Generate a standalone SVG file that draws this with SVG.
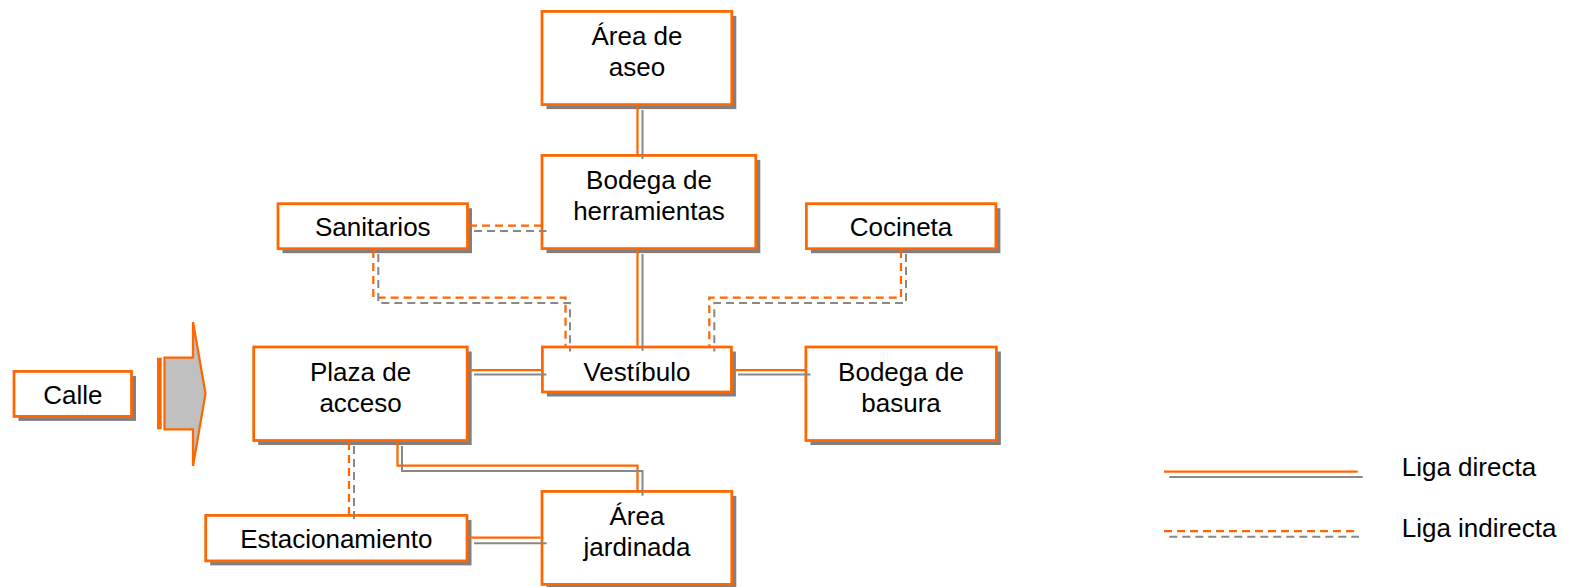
<svg xmlns="http://www.w3.org/2000/svg" width="1580" height="587" viewBox="0 0 1580 587">
<style>
.box{fill:#fff;stroke:#FF6600;stroke-width:2.75}
.sh{fill:#808080}
.t{font-family:"Liberation Sans",Arial,sans-serif;font-size:26px;fill:#000;text-anchor:middle}
.lt{font-family:"Liberation Sans",Arial,sans-serif;font-size:26px;fill:#000}
.o{fill:none;stroke:#FF6600;stroke-width:2.25}
.g{fill:none;stroke:#888;stroke-width:2}
.d{stroke-dasharray:8 5}
</style>
<rect width="1580" height="587" fill="#fff"/>
<g id="calle">
<rect class="sh" x="18.5" y="375.9" width="117.5" height="45"/>
<rect class="box" x="14" y="371.4" width="117.5" height="45"/>
<text class="t" x="72.8" y="404.3">Calle</text>
</g>
<g id="arrow">
<rect x="157" y="357.7" width="4.7" height="71.6" fill="#FF6600"/>
<polygon points="164.5,357.7 193,357.7 193,322 205.5,393.5 193,466 193,429.3 164.5,429.3" fill="#C0C0C0" stroke="#FF6600" stroke-width="2.25"/>
</g>
<g id="area-aseo">
<rect class="sh" x="546.5" y="15.9" width="189.8" height="93.2"/>
<rect class="box" x="542" y="11.4" width="189.8" height="93.2"/>
<text class="t" x="637" y="45">Área de</text>
<text class="t" x="637" y="76">aseo</text>
</g>
<g id="bodega-herramientas">
<rect class="sh" x="546.5" y="159.9" width="213.8" height="93.2"/>
<rect class="box" x="542" y="155.4" width="213.8" height="93.2"/>
<text class="t" x="649" y="189">Bodega de</text>
<text class="t" x="649" y="220">herramientas</text>
</g>
<g id="sanitarios">
<rect class="sh" x="282.5" y="208.2" width="189.5" height="45"/>
<rect class="box" x="278" y="203.7" width="189.5" height="45"/>
<text class="t" x="372.8" y="236">Sanitarios</text>
</g>
<g id="cocineta">
<rect class="sh" x="810.9" y="208.2" width="189.5" height="45"/>
<rect class="box" x="806.4" y="203.7" width="189.5" height="45"/>
<text class="t" x="901" y="236">Cocineta</text>
</g>
<g id="plaza-acceso">
<rect class="sh" x="258.2" y="351.5" width="213.5" height="93.5"/>
<rect class="box" x="253.7" y="347" width="213.5" height="93.5"/>
<text class="t" x="360.6" y="381">Plaza de</text>
<text class="t" x="360.6" y="412">acceso</text>
</g>
<g id="vestibulo">
<rect class="sh" x="546.9" y="351.5" width="189" height="45"/>
<rect class="box" x="542.4" y="347" width="189" height="45"/>
<text class="t" x="636.9" y="380.7">Vestíbulo</text>
</g>
<g id="bodega-basura">
<rect class="sh" x="810.4" y="351.5" width="190.5" height="93.5"/>
<rect class="box" x="805.9" y="347" width="190.5" height="93.5"/>
<text class="t" x="901" y="381">Bodega de</text>
<text class="t" x="901" y="412">basura</text>
</g>
<g id="estacionamiento">
<rect class="sh" x="210.2" y="519.9" width="261.3" height="45.5"/>
<rect class="box" x="205.7" y="515.4" width="261.3" height="45.5"/>
<text class="t" x="336.3" y="548">Estacionamiento</text>
</g>
<g id="area-jardinada">
<rect class="sh" x="546.5" y="495.9" width="189.8" height="93"/>
<rect class="box" x="542" y="491.4" width="189.8" height="93"/>
<text class="t" x="637" y="525">Área</text>
<text class="t" x="637" y="556">jardinada</text>
</g>
<g id="connectors">
<path class="o" d="M637.5,106 V154"/>
<path class="g" d="M642.5,110 V159"/>
<path class="o" d="M637.5,250 V345.7"/>
<path class="g" d="M642.5,254 V351"/>
<path class="o" d="M469,370 H541"/>
<path class="g" d="M474,374.5 H546.5"/>
<path class="o" d="M733,370 H805"/>
<path class="g" d="M738,374.5 H810.5"/>
<path class="o d" d="M469,225.7 H541"/>
<path class="g d" d="M474,231 H546.5"/>
<path class="o d" d="M373.3,250 V297.7 H565.5 V345.7"/>
<path class="g d" d="M378.3,254 V303 H570 V351.5"/>
<path class="o d" d="M901,250 V297.7 H709.3 V345.7"/>
<path class="g d" d="M906,254 V303 H714.3 V351.5"/>
<path class="o d" d="M349,442 V514"/>
<path class="g d" d="M354,446 V519.5"/>
<path class="o" d="M397.5,442 V465.7 H637.5 V490"/>
<path class="g" d="M402,446 V471 H642.5 V495.7"/>
<path class="o" d="M468.3,537.7 H540.7"/>
<path class="g" d="M474,543.3 H546.7"/>
</g>
<g id="legend">
<path class="o" d="M1164,471.7 H1357.7"/>
<path class="g" d="M1169.3,477 H1362.7"/>
<text class="lt" x="1401.7" y="476">Liga directa</text>
<path class="o d" d="M1164,531 H1354"/>
<path class="g d" d="M1169.3,536.7 H1359"/>
<text class="lt" x="1401.7" y="536.7">Liga indirecta</text>
</g>
</svg>
